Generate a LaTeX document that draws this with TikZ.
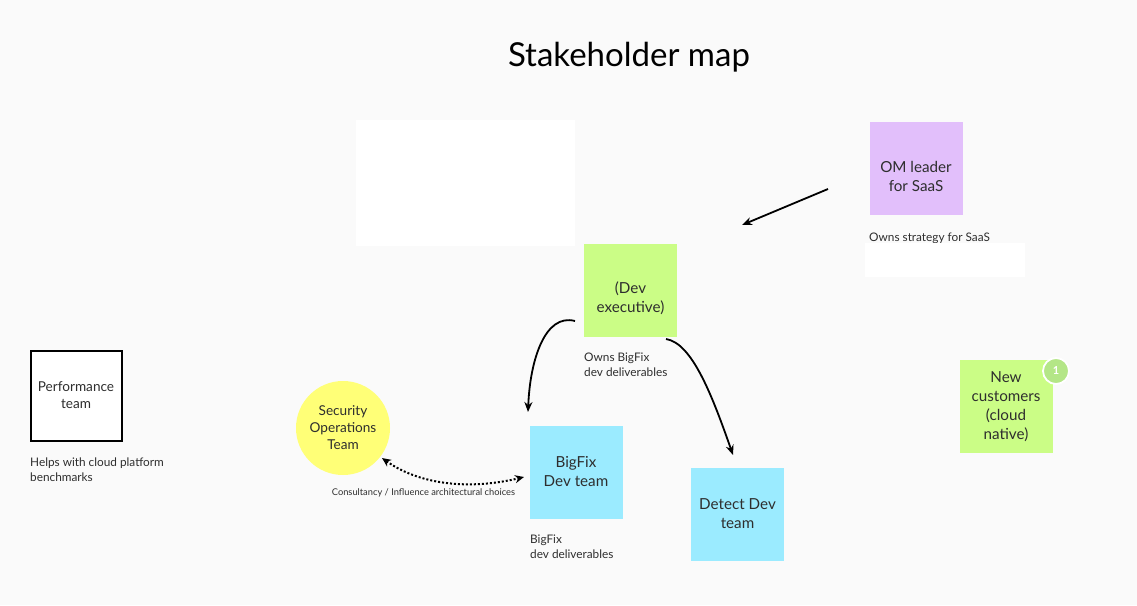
\documentclass[tikz,border=0pt]{standalone}
\usepackage{fontspec}
\setmainfont{Lato}
\usetikzlibrary{arrows.meta}
\definecolor{bg}{HTML}{FAFAFA}
\definecolor{purp}{HTML}{E2BFFB}
\definecolor{lime}{HTML}{CBFD86}
\definecolor{cyanst}{HTML}{9BEBFF}
\definecolor{yel}{HTML}{FFFF77}
\definecolor{badge}{HTML}{B4E687}
\definecolor{txt}{HTML}{2E2E2E}
\tikzset{
  stfont/.style={align=center,text=txt,font=\fontsize{15.2}{19}\selectfont},
  sticky/.style={minimum width=93pt,minimum height=93pt,inner sep=2pt,stfont},
  stlabel/.style={stfont,inner sep=0pt,yshift=-8pt},
  note/.style={anchor=north west,inner sep=0pt,align=left,text=txt,font=\fontsize{11.8}{15}\selectfont},
  arr/.style={line width=1.8pt,-{Stealth[length=10pt,width=8pt]}},
  whitebox/.style={fill=white,draw=none,inner sep=0pt},
  smallfont/.style={align=center,text=txt,font=\fontsize{13.6}{17}\selectfont}
}
\begin{document}
\begin{tikzpicture}[x=1pt,y=-1pt]
\useasboundingbox[fill=bg] (0,0) rectangle (1137,605);
\node[text=black,font=\fontsize{33}{38}\selectfont] (title) at (629,57) {Stakeholder map};
\node[whitebox,minimum width=219pt,minimum height=126pt] (wb1) at (465.5,183) {};
\node[sticky,fill=purp,label={[stlabel]center:OM leader\\for SaaS}] (om) at (916,168.5) {};
\node[note] (omn) at (869,232.5) {Owns strategy for SaaS};
\node[whitebox,minimum width=160pt,minimum height=34pt] (wb2) at (945,260) {};
\node[sticky,fill=lime,label={[stlabel]center:(Dev\\executive)}] (dev) at (630.5,290) {};
\node[note] (devn) at (584,352.5) {Owns BigFix\\dev deliverables};
\node[sticky,fill=cyanst] (bf) at (576,472) {BigFix\\Dev team};
\node[note] (bfn) at (530,535) {BigFix\\dev deliverables};
\node[circle,fill=yel,minimum size=94pt,inner sep=0pt,smallfont] (sec) at (343,428) {Security\\Operations\\Team};
\node[draw=black,line width=2pt,fill=white,minimum width=91pt,minimum height=90pt,smallfont] (perf) at (76,395.5) {Performance\\team};
\node[note] (perfn) at (30,458) {Helps with cloud platform\\benchmarks};
\node[sticky,fill=cyanst] (det) at (737.5,514) {Detect Dev\\team};
\node[sticky,fill=lime] (new) at (1006,406.5) {New\\customers\\(cloud\\native)};
\node[circle,fill=badge,draw=white,line width=1.8pt,minimum size=26pt,inner sep=0pt,text=white,font=\fontsize{11}{12}\selectfont\bfseries] (bdg) at (1056,371) {1};
\node[text=txt,font=\fontsize{9.3}{10}\selectfont] (cons) at (423.5,492.5) {Consultancy / Influence architectural choices};
\coordinate (a1s) at (828,189);
\coordinate (a1e) at (742,225);
\coordinate (a2s) at (575,321);
\coordinate (a2e) at (528,412);
\coordinate (a3s) at (666,339);
\coordinate (a3e) at (733,455);
\coordinate (a4s) at (382,458);
\coordinate (a4e) at (524,477);
\draw[arr] (a1s) -- (a1e);
\draw[arr] (a2s) .. controls (545,313) and (530,360) .. (a2e);
\draw[arr] (a3s) .. controls (692,343) and (712,395) .. (a3e);
\draw[line width=2pt,dotted,{Stealth[length=9pt,width=8pt]}-{Stealth[length=9pt,width=8pt]}] (a4s) .. controls (420,485) and (470,490) .. (a4e);
\end{tikzpicture}
\end{document}
